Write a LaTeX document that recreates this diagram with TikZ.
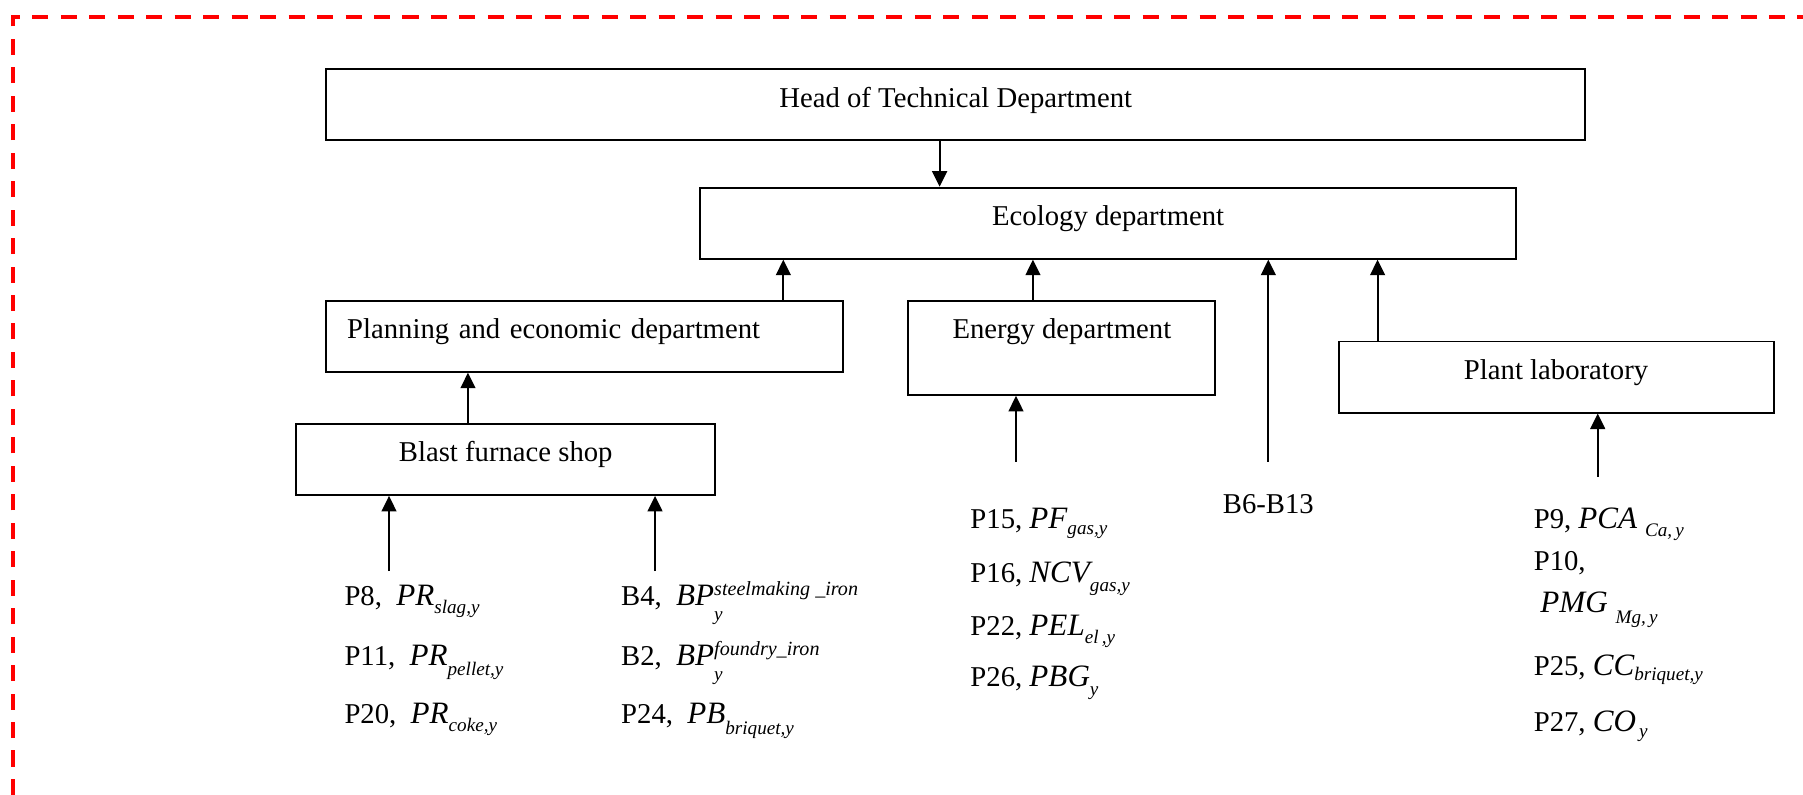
\documentclass[tikz,border=0pt]{standalone}
\usepackage{fontspec}
\setmainfont{Liberation Serif}
\usetikzlibrary{arrows.meta}

\newcommand{\pv}[3][4.5pt]{{\fontsize{13pt}{15pt}\selectfont\itshape #2}\raisebox{-#1}{\fontsize{8pt}{9pt}\selectfont\itshape #3}}
\newcommand{\pvs}[3]{{\fontsize{13pt}{15pt}\selectfont\itshape #1}\rlap{\raisebox{-6pt}{\fontsize{8pt}{9pt}\selectfont\itshape #2}}\raisebox{4.5pt}{\fontsize{8.4pt}{9pt}\selectfont\itshape #3}}

\begin{document}
\begin{tikzpicture}[
    every node/.style={font=\fontsize{12pt}{14pt}\selectfont},
    dept/.style={draw, line width=0.8pt, inner xsep=2pt, inner ysep=0pt, text height=15.9pt, text depth=13.8pt, align=center},
    item/.style={anchor=base west, inner sep=0pt},
    flow/.style={-{Triangle[length=6.5pt,width=6.2pt]}, line width=0.8pt},
    cutline/.style={red, line width=1.5pt, dash pattern=on 6.7pt off 5.2pt}
]
    \useasboundingbox (0,0) rectangle (26.488,11.679);
    \draw[cutline] (0.195,0) -- (0.195,11.43) -- (26.49,11.43);

    \node[dept, minimum width=18.50cm] (head) at (14.04,10.14) {Head of Technical Department};
    \node[dept, minimum width=11.99cm] (eco) at (16.28,8.40) {Ecology department};
    \node[dept, inner xsep=0.31cm, text width=6.98cm, align=left] (plan) at (8.59,6.74) {Planning and economic department};
    \node[dept, minimum width=4.51cm, text depth=23.5pt] (energy) at (15.60,6.57) {Energy department};
    \node[dept, minimum width=6.39cm] (lab) at (22.86,6.14) {Plant laboratory};
    \node[dept, minimum width=6.16cm] (blast) at (7.43,4.93) {Blast furnace shop};

    \draw[flow] ([xshift=-2.36mm]head.south) -- ([xshift=-2.36mm]head.south |- eco.north);
    \draw[flow] ([xshift=29.18mm]plan.north) -- ([xshift=29.18mm]plan.north |- eco.south);
    \draw[flow] ([xshift=-4.25mm]energy.north) -- ([xshift=-4.25mm]energy.north |- eco.south);
    \draw[flow] ([xshift=-26.22mm]lab.north) -- ([xshift=-26.22mm]lab.north |- eco.south);
    \draw[flow] ([xshift=-5.55mm]blast.north) -- ([xshift=-5.55mm]blast.north |- plan.south);

    \coordinate (slagIn) at (5.715,3.29);
    \coordinate (ironIn) at (9.623,3.29);
    \coordinate (gasIn) at (14.926,4.897);
    \coordinate (bIn) at (18.633,4.897);
    \coordinate (labIn) at (23.472,4.676);
    \draw[flow] (slagIn) -- (slagIn |- blast.south);
    \draw[flow] (ironIn) -- (ironIn |- blast.south);
    \draw[flow] (gasIn) -- (gasIn |- energy.south);
    \draw[flow] (bIn) -- (bIn |- eco.south);
    \draw[flow] (labIn) -- (labIn |- lab.south);

    \node[item] (p8) at (5.054,2.777) {P8,\ \ \pv[3pt]{PR}{slag,y}};
    \node[item] (p11) at (5.054,1.895) {P11,\ \ \pv[4pt]{PR}{pellet,y}};
    \node[item] (p20) at (5.054,1.043) {P20,\ \ \pv[3pt]{PR}{coke,y}};
    \node[item] (b4) at (9.119,2.777) {B4,\ \ \pvs{BP}{y}{steelmaking \_iron}};
    \node[item] (b2) at (9.119,1.895) {B2,\ \ \pvs{BP}{y}{foundry\_iron}};
    \node[item] (p24) at (9.119,1.043) {P24,\ \ \pv[4.5pt]{PB}{briquet,y}};

    \node[item] (p15) at (14.250,3.918) {P15, \pv[2.5pt]{PF}{gas,y}};
    \node[item] (p16) at (14.250,3.125) {P16, \pv[4pt]{NCV}{gas,y}};
    \node[item] (p22) at (14.250,2.348) {P22, \pv[3.5pt]{PEL}{el\,,y}};
    \node[item] (p26) at (14.250,1.587) {P26, \pv[3.5pt]{PBG}{y}};

    \node[anchor=base, inner sep=0pt] (b6) at (18.633,4.138) {B6-B13};

    \node[item] (p9) at (22.526,3.915) {P9, \pv[3.5pt]{PCA\ }{Ca,\,y}};
    \node[item] (p10) at (22.526,3.291) {P10,};
    \node[item] (pmg) at (22.624,2.683) {\pv[4.5pt]{PMG\ }{Mg,\,y}};
    \node[item] (p25) at (22.526,1.754) {P25, \pv[2.2pt]{CC}{briquet,y}};
    \node[item] (p27) at (22.526,0.926) {P27, \pv[2.2pt]{CO}{\,y}};
\end{tikzpicture}
\end{document}
